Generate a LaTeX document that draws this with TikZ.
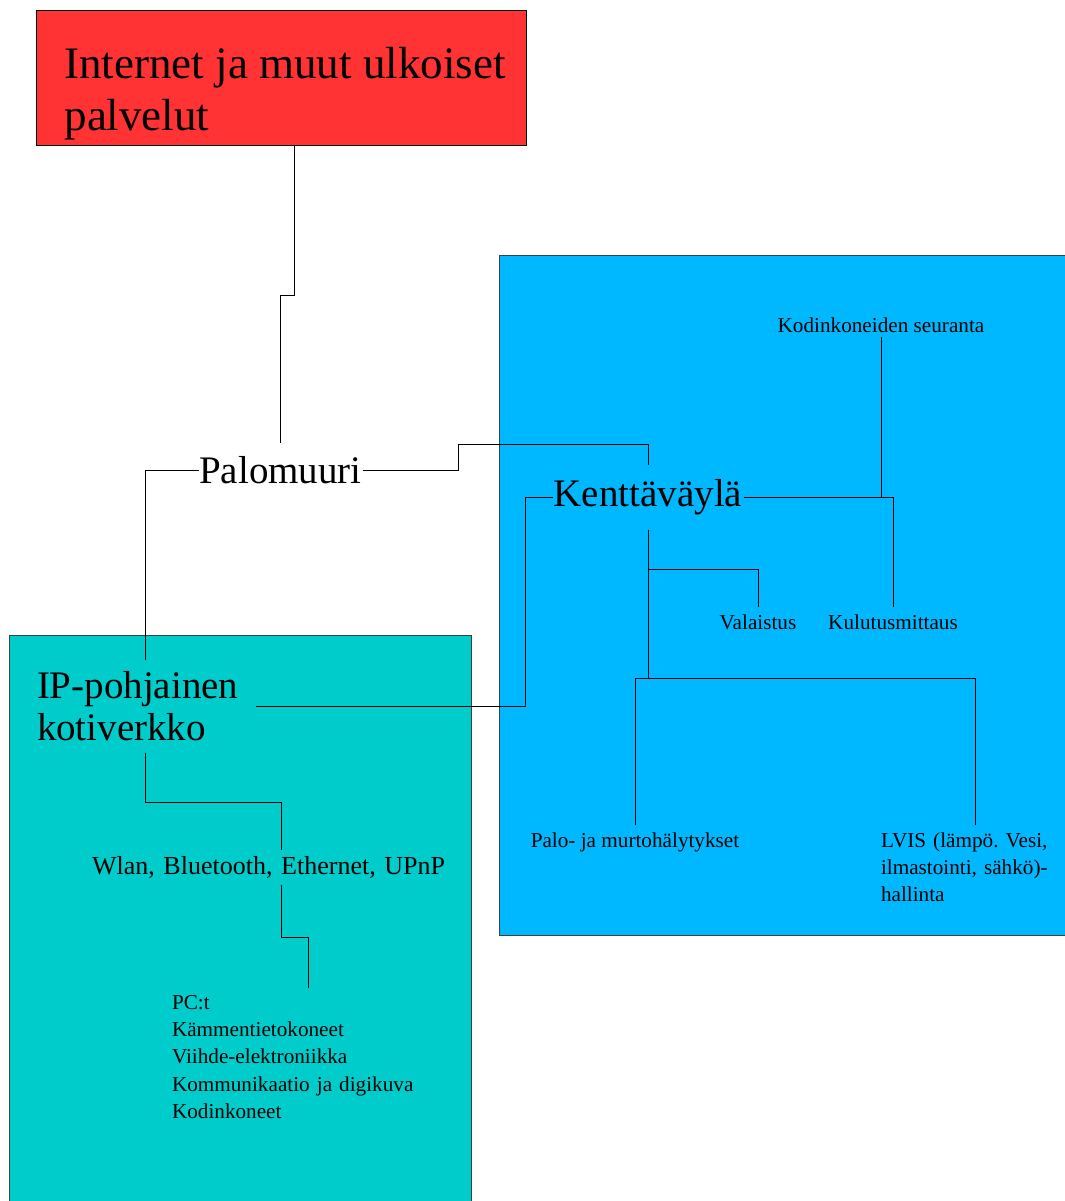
\documentclass[tikz,border=0pt]{standalone}
\usepackage{fontspec}
\setmainfont{Liberation Serif}
\frenchspacing
\definecolor{punainen}{RGB}{255,51,51}
\definecolor{sininen}{RGB}{0,184,255}
\definecolor{turkoosi}{RGB}{0,204,204}
\begin{document}
\begin{tikzpicture}[x=0.5pt,y=-0.5pt,line width=0.5pt,
  big/.style={font=\fontsize{19.5}{21}\selectfont,inner sep=0},
  small/.style={font=\fontsize{10.6}{13.6}\selectfont,inner sep=0,align=left}]
\useasboundingbox (0,0) rectangle (1065,1201);
% taustat
\draw[fill=sininen,draw=black!75] (499,255) rectangle (1070,935);
\draw[fill=turkoosi,draw=black!75] (9,635) rectangle (471,1206);
\draw (36,10) node[rectangle,draw,fill=punainen,anchor=north west,minimum width=245pt,minimum height=67.5pt,inner sep=0] (net) {};
\draw (64,47) node[anchor=north west,inner sep=0,align=left,font=\fontsize{22.5}{26}\selectfont] (nett) {Internet ja muut ulkoiset\\palvelut};
% solmut
\draw (280.5,470) node[big,minimum width=81.5pt,minimum height=27pt] (fw) {Palomuuri};
\draw (145,706) node[big,text width=108pt,inner xsep=1pt,minimum height=46pt,align=left] (ip) {IP-pohjainen\\kotiverkko};
\draw (648,497) node[big,minimum width=95pt,minimum height=32pt] (kv) {Kenttäväylä};
\draw (281,867) node[font=\fontsize{13}{15}\selectfont,inner sep=0,text width=189pt,align=left,minimum height=17pt] (wl) {Wlan, Bluetooth, Ethernet, UPnP};
\draw (308,988) node[small,anchor=north,text width=136pt,inner ysep=3.5pt] (pc) {PC:t\\Kämmentietokoneet\\Viihde-elektroniikka\\Kommunikaatio ja digikuva\\Kodinkoneet};
\draw (881,337) node[small,anchor=south,inner ysep=2pt,minimum width=108pt] (ks) {Kodinkoneiden seuranta};
\draw (758,607) node[small,anchor=north,inner ysep=3.5pt] (va) {Valaistus};
\draw (893,607) node[small,anchor=north,inner ysep=3.5pt] (km) {Kulutusmittaus};
\draw (635,825) node[small,anchor=north,inner ysep=3.5pt] (ph) {Palo- ja murtohälytykset};
\draw (975,825) node[small,anchor=north,inner ysep=3.5pt,text width=94pt] (lv) {LVIS (lämpö. Vesi,\\ilmastointi, sähkö)-\\hallinta};
% yhteydet
\draw ([xshift=6.5pt]net.270) -- ++(0,149) -| (fw.90);
\draw (fw.180) -| (ip.90);
\draw (fw.0) -- ++(96,0) -- ++(0,-26) -| (kv.90);
\draw (ip.0) -| ([xshift=-13.5pt]kv.180) -- (kv.180);
\draw (ip.270) -- ++(0,50) -| (wl.90);
\draw (wl.270) -- ++(0,53) -| (pc.90);
\draw (kv.0) -| (ks.270);
\draw (kv.0) -| (km.90);
\draw (kv.270) -- ++(0,40) -| (va.90);
\draw (kv.270) -- ++(0,149) -| (ph.90);
\draw (kv.270) ++(0,149) -| (lv.90);
\end{tikzpicture}
\end{document}
